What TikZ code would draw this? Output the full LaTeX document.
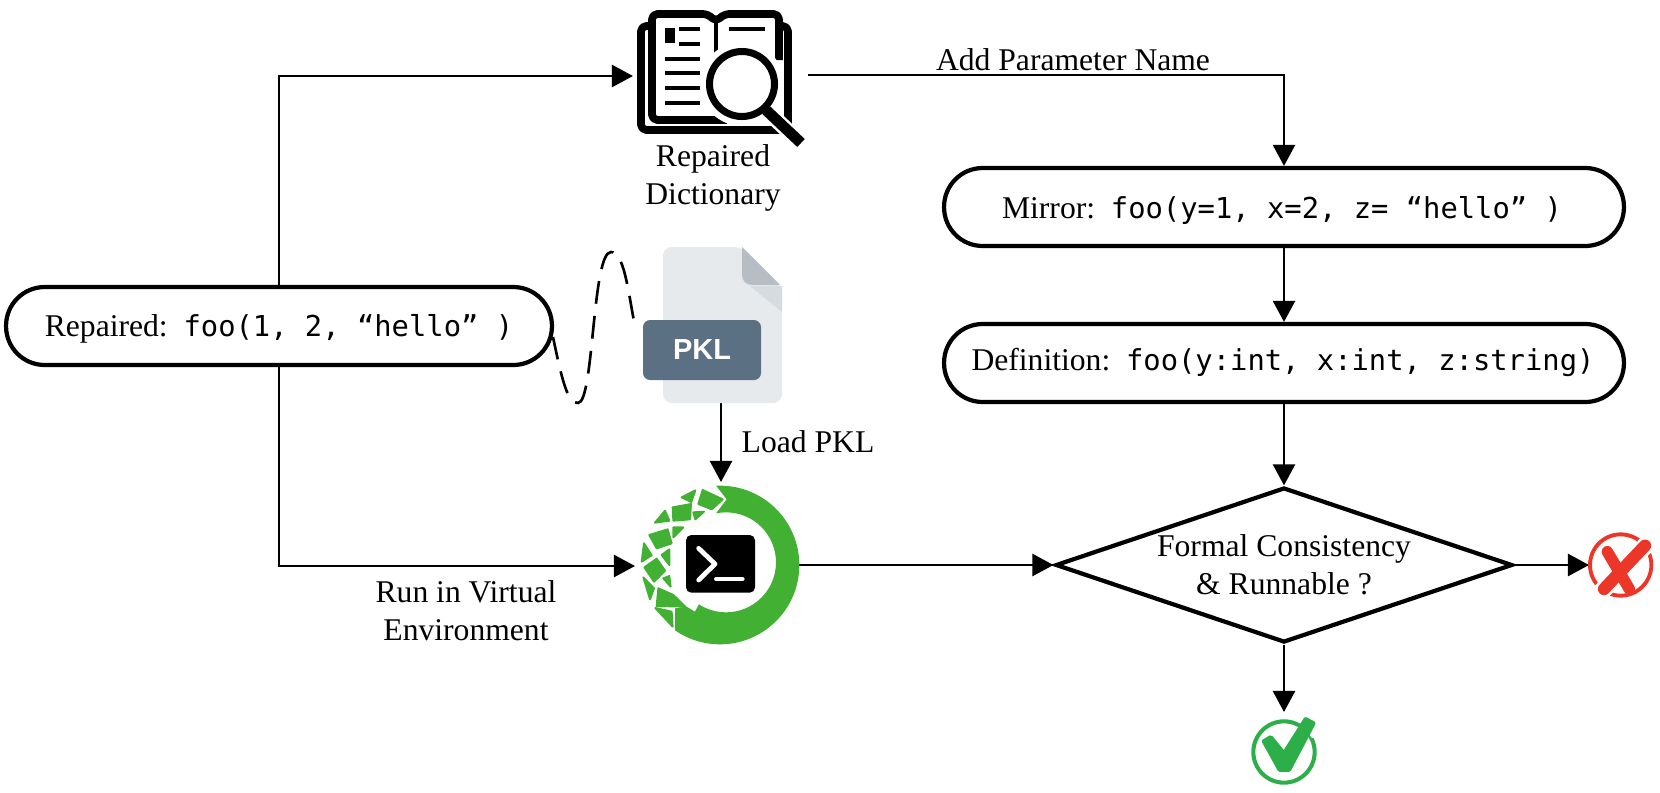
\documentclass[tikz,border=0pt]{standalone}
\usepackage{fontspec}
\setmainfont{Liberation Serif}
\setsansfont{Liberation Sans}
\newfontfamily\codefont{DejaVu Sans Mono}
\usetikzlibrary{arrows.meta,shapes.geometric}
\definecolor{pklfile}{RGB}{231,234,237}
\definecolor{pklfold}{RGB}{182,189,197}
\definecolor{pklshade}{RGB}{214,219,224}
\definecolor{pklband}{RGB}{92,112,132}
\definecolor{envgreen}{RGB}{66,176,50}
\definecolor{okgreen}{RGB}{44,174,72}
\definecolor{badred}{RGB}{236,54,40}
\newcommand{\cd}[1]{{\codefont\fontsize{16.4}{20}\selectfont #1}}
\tikzset{
  x=0.02cm,y=-0.02cm,
  every node/.style={font=\fontsize{18}{20.6}\selectfont,inner sep=0pt,align=center},
  pill/.style={draw=black,line width=2.4pt,rounded corners=22pt,fill=white},
  flow/.style={draw=black,line width=1.6pt,-{Triangle[length=12pt,width=12.5pt]}},
  cell/.style={fill=envgreen,draw=envgreen,line width=1.1pt,line join=round}
}
\begin{document}
\begin{tikzpicture}
\useasboundingbox (0,0) rectangle (1660,792);
% boxes
\node[pill,minimum width=10.92cm,minimum height=1.56cm] (rep) at (279,326) {};
\node at (279,329) {Repaired:\ \ \cd{foo(1, 2, “hello” )}};
\node[pill,minimum width=13.6cm,minimum height=1.56cm] (mir) at (1284,207) {};
\node at (1282,210) {Mirror:\ \ \cd{foo(y=1, x=2, z= “hello” )}};
\node[pill,minimum width=13.6cm,minimum height=1.56cm] (def) at (1284,363) {};
\node at (1283,362) {Definition:\ \ \cd{foo(y:int, x:int, z:string)}};
\node[diamond,draw=black,line width=2.4pt,minimum width=9.14cm,minimum height=3.1cm,aspect=2.9] (dia) at (1284,565) {};
\node at (1284,565) {Formal Consistency\\[1pt]\& Runnable ?};
% anchors for the icons
\coordinate (bookin) at (633,76);
\coordinate (bookout) at (808,75);
\coordinate (pklbot) at (721,403);
\coordinate (envtop) at (721,482);
\coordinate (envin) at (635,566);
\coordinate (envout) at (798,565);
\coordinate (badin) at (1589,565);
\coordinate (okin) at (1284,712);
\coordinate (lefttop) at (279,76);
\coordinate (leftbot) at (279,566);
\coordinate (corner) at (1284,75);
% connectors
\draw[flow] (rep.north -| lefttop) -- (lefttop) -- (bookin);
\draw[flow] (rep.south -| leftbot) -- (leftbot) -- (envin);
\draw[flow] (bookout) -- (corner) -- (mir.north -| corner);
\draw[flow] (mir.south -| corner) -- (def.north -| corner);
\draw[flow] (def.south -| corner) -- (dia.north);
\draw[flow] (pklbot) -- (envtop);
\draw[flow] (envout) -- (dia.west);
\draw[flow] (dia.east) -- (badin);
\draw[flow] (dia.south) -- (okin);
% labels
\node at (1073,60) {Add Parameter Name};
\node at (713,178) {Repaired\\[1pt]Dictionary};
\node at (808,442) {Load PKL};
\node at (466,611) {Run in Virtual\\[1pt]Environment};
% dashed curve
\draw[line width=1.5pt,dash pattern=on 13pt off 7pt]
  (553,337) .. controls (563,385) and (568,403) .. (578,403)
  .. controls (594,403) and (592,252) .. (611,252)
  .. controls (624,252) and (628,290) .. (635,327);
% PKL file
\fill[pklfile,rounded corners=5pt] (663,247) -- (742,247) -- (782,287) -- (782,403) -- (663,403) -- cycle;
\fill[pklshade] (750,286) -- (782,286) -- (782,312) -- cycle;
\fill[pklfold] (742,247) -- (780,285) -- (753,285) .. controls (746,285) and (742,281) .. (742,275) -- cycle;
\fill[pklband,rounded corners=4pt] (643,320) rectangle (761,380);
\node[text=white,font=\sffamily\bfseries\fontsize{16.5}{20}\selectfont] at (702,350) {PKL};
% Book icon
\begin{scope}[line join=round]
\draw[line width=4.4pt,rounded corners=3pt] (651,26) -- (641,26) -- (641,130) -- (788,130) -- (788,26) -- (778,26);
\draw[line width=4.4pt,rounded corners=3pt] (727,120) -- (652,120) -- (652,14) -- (708,14) -- (716,22) -- (724,14) -- (779,14) -- (779,60);
\draw[line width=2.2pt] (716,22) -- (716,54);
\fill (665,28) rectangle (675,43);
\draw[line width=2.2pt] (679,29) -- (700,29) (679,44) -- (700,44) (665,59) -- (700,59) (665,73) -- (700,73) (665,88) -- (700,88) (665,103) -- (700,103) (729,29) -- (765,29);
\fill[white] (742,84) circle (42);
\draw[white,line width=9pt] (768,112) -- (803,145);
\draw[line width=4pt,fill=white] (742,84) circle (32.5);
\draw[line width=6.2pt] (766,110) -- (801,143);
\end{scope}
% Environment icon: the open ring and the lattice, in 3x crop units
\begin{scope}[shift={(630,480)},x=0.00667cm,y=-0.00667cm]
\begin{scope}
\clip (245,0) -- (290,58) -- (258,100) -- (270,255) -- (195,395) -- (170,380) -- (135,385) -- (135,520) -- (560,520) -- (560,0) -- cycle;
\fill[envgreen,even odd rule] (270,255) circle (238) (288,247) circle (150);
\end{scope}
\fill[cell] (155,52) -- (196,31) -- (184,66) -- cycle;
\fill[cell] (218,30) -- (278,58) -- (245,88) -- (205,72) -- cycle;
\fill[cell] (128,82) -- (183,72) -- (180,118) -- (130,122) -- cycle;
\fill[cell] (190,97) -- (222,95) -- (196,118) -- cycle;
\fill[cell] (75,128) -- (105,92) -- (118,122) -- cycle;
\fill[cell] (58,165) -- (113,148) -- (125,190) -- (80,205) -- cycle;
\fill[cell] (130,172) -- (130,142) -- (160,142) -- cycle;
\fill[cell] (35,245) -- (42,190) -- (65,226) -- cycle;
\fill[cell] (43,262) -- (80,236) -- (105,272) -- (72,305) -- cycle;
\fill[cell] (95,225) -- (118,208) -- (118,255) -- cycle;
\fill[cell] (40,292) -- (72,325) -- (60,358) -- cycle;
\fill[cell] (100,295) -- (118,288) -- (122,320) -- cycle;
\fill[cell] (85,325) -- (130,345) -- (166,380) -- (80,378) -- cycle;
\fill[cell] (76,384) -- (125,395) -- (128,440) -- cycle;
\fill[black,rounded corners=3pt] (168,165) rectangle (375,338);
\draw[white,line width=2.7pt,line cap=round,line join=round] (206,205) -- (255,252) -- (206,300);
\draw[white,line width=2.2pt,line cap=round] (258,297) -- (338,297);
\end{scope}
% check
\begin{scope}[shift={(1234,702)},x=0.00667cm,y=-0.00667cm]
\draw[okgreen,line width=2.3pt] (150,150) circle (92);
\fill[white] (180,40) -- (265,20) -- (265,105) -- (234,108) -- cycle;
\fill[okgreen,draw=okgreen,line width=2.5pt,line join=round] (90,118) -- (110,106) -- (150,155) -- (215,52) -- (238,64) -- (165,203) -- (137,203) -- cycle;
\end{scope}
% cross
\begin{scope}[shift={(1570,515)},x=0.00667cm,y=-0.00667cm]
\draw[badred,line width=2.2pt] (152,150) circle (92);
\draw[white,line width=10pt] (255,62) -- (70,255);
\draw[badred,line width=6.5pt,line cap=round] (112,110) -- (178,222);
\draw[badred,line width=7pt,line cap=round] (225,92) -- (102,222);
\end{scope}
\end{tikzpicture}
\end{document}
